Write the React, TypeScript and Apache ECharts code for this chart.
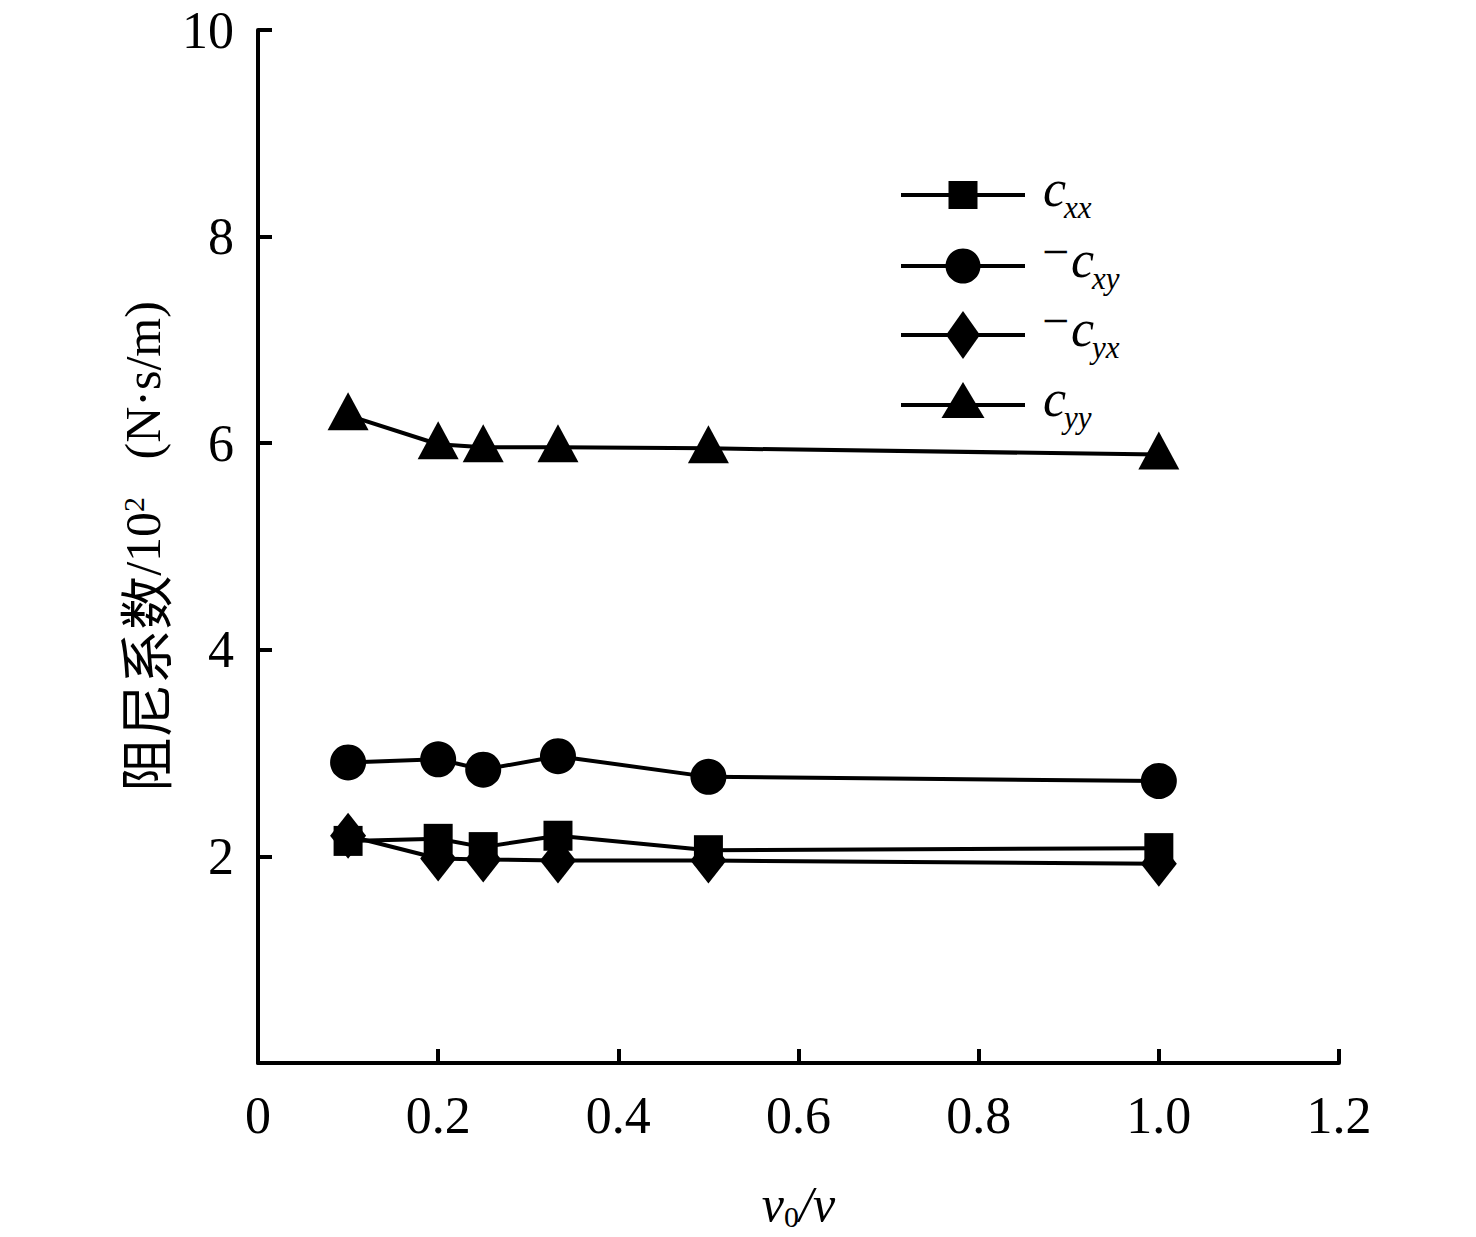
import React, { useEffect, useRef } from "react";
import * as echarts from "echarts";

const xValues = [0.1, 0.2, 0.25, 0.333, 0.5, 1.0];
const cxx = [2.15, 2.17, 2.09, 2.2, 2.06, 2.08];
const cxy = [2.91, 2.94, 2.84, 2.97, 2.77, 2.73];
const cyx = [2.2, 1.98, 1.97, 1.96, 1.96, 1.93];
const cyy = [6.27, 5.99, 5.96, 5.96, 5.95, 5.89];

const legendSubs = ["xx", "xy", "yx", "yy"];
const legendMinus = [false, true, true, false];

const SERIF = '"Liberation Serif", "Times New Roman", serif';
const CJK = '"Noto Sans CJK SC", sans-serif';

function legendGraphics() {
  const rowsY = [195, 266, 335, 405];
  const mx = 963;
  const els: any[] = [];
  rowsY.forEach((y, i) => {
    els.push({
      type: "line",
      shape: { x1: 901, y1: y, x2: 1025, y2: y },
      style: { stroke: "#000", lineWidth: 4 },
    });
    if (i === 0) {
      els.push({ type: "rect", shape: { x: mx - 14.5, y: y - 14, width: 29, height: 28 }, style: { fill: "#000" } });
    } else if (i === 1) {
      els.push({ type: "circle", shape: { cx: mx, cy: y, r: 17.5 }, style: { fill: "#000" } });
    } else if (i === 2) {
      els.push({
        type: "polygon",
        shape: { points: [[mx, y - 24], [mx + 17, y], [mx, y + 24], [mx - 17, y]] },
        style: { fill: "#000" },
      });
    } else {
      els.push({
        type: "polygon",
        shape: { points: [[mx, y - 23], [mx + 21.5, y + 13], [mx - 21.5, y + 13]] },
        style: { fill: "#000" },
      });
    }
    let tx = 1043;
    if (legendMinus[i]) {
      els.push({
        type: "text",
        x: 1042,
        y: y - 15,
        style: { text: "−", font: `48px ${SERIF}`, fill: "#000", verticalAlign: "middle", align: "left" },
      });
      tx = 1071;
    }
    els.push({
      type: "text",
      x: tx,
      y: y - 7,
      style: { text: "c", font: `italic 52px ${SERIF}`, fill: "#000", verticalAlign: "middle", align: "left" },
    });
    els.push({
      type: "text",
      x: tx + 21,
      y: y + 12,
      style: { text: legendSubs[i], font: `italic 31px ${SERIF}`, fill: "#000", verticalAlign: "middle", align: "left" },
    });
  });
  return els;
}

export default function App() {
  const ref = useRef<HTMLDivElement>(null);
  useEffect(() => {
    if (!ref.current) return;
    const chart = echarts.init(ref.current, undefined, { renderer: "svg" });
    const mk = (vals: number[]) => xValues.map((x, i) => [x, vals[i]]);
    const lineStyle = { color: "#000", width: 4 };
    const itemStyle = { color: "#000" };
    chart.setOption({
      animation: false,
      backgroundColor: "#fff",
      grid: { left: 258, right: 137, top: 30, bottom: 174, outerBoundsMode: "none", containLabel: false },
      graphic: legendGraphics(),
      xAxis: {
        type: "value",
        min: 0,
        max: 1.2,
        interval: 0.2,
        name: "{i|v}{sub|0}{i|/v}",
        nameLocation: "middle",
        nameGap: 114,
        nameTextStyle: {
          rich: {
            i: { fontFamily: SERIF, fontStyle: "italic", fontSize: 50, color: "#000" },
            sub: { fontFamily: SERIF, fontSize: 30, color: "#000", padding: [24, 0, 0, 0] },
          },
        },
        axisLine: { lineStyle: { color: "#000", width: 4 } },
        axisTick: { inside: true, length: 14, lineStyle: { color: "#000", width: 4 } },
        splitLine: { show: false },
        axisLabel: {
          fontFamily: SERIF,
          fontSize: 52,
          color: "#000",
          margin: 26,
          formatter: (v: number) => (v === 0 ? "0" : v.toFixed(1)),
        },
      },
      yAxis: {
        type: "value",
        min: 0,
        max: 10,
        interval: 2,
        name: "{a|阻尼系数}{b|/10}{sup|2}{b|   (N·s/m)}",
        nameLocation: "middle",
        nameGap: 88,
        nameTextStyle: {
          rich: {
            a: { fontFamily: CJK, fontSize: 54, color: "#000" },
            b: { fontFamily: SERIF, fontSize: 50, color: "#000" },
            sup: { fontFamily: SERIF, fontSize: 30, color: "#000", padding: [0, 0, 20, 0] },
          },
        },
        axisLine: { lineStyle: { color: "#000", width: 4 } },
        axisTick: { inside: true, length: 14, lineStyle: { color: "#000", width: 4 } },
        splitLine: { show: false },
        axisLabel: {
          fontFamily: SERIF,
          fontSize: 52,
          color: "#000",
          margin: 24,
          formatter: (v: number) => (v === 0 ? "" : String(v)),
        },
      },
      series: [
        {
          name: "cxx",
          type: "line",
          data: mk(cxx),
          symbol: "rect",
          symbolSize: [29, 30],
          lineStyle,
          itemStyle,
        },
        {
          name: "cxy",
          type: "line",
          data: mk(cxy),
          symbol: "circle",
          symbolSize: 36,
          lineStyle,
          itemStyle,
        },
        {
          name: "cyx",
          type: "line",
          data: mk(cyx),
          symbol: "diamond",
          symbolSize: [36, 46],
          lineStyle,
          itemStyle,
        },
        {
          name: "cyy",
          type: "line",
          data: mk(cyy),
          symbol: "triangle",
          symbolSize: [41, 38],
          symbolOffset: [0, -4],
          lineStyle,
          itemStyle,
        },
      ],
    });
    return () => chart.dispose();
  }, []);
  return (
    <div
      ref={ref}
      style={{ position: "absolute", left: 0, top: 0, width: 1476, height: 1237 }}
    />
  );
}
